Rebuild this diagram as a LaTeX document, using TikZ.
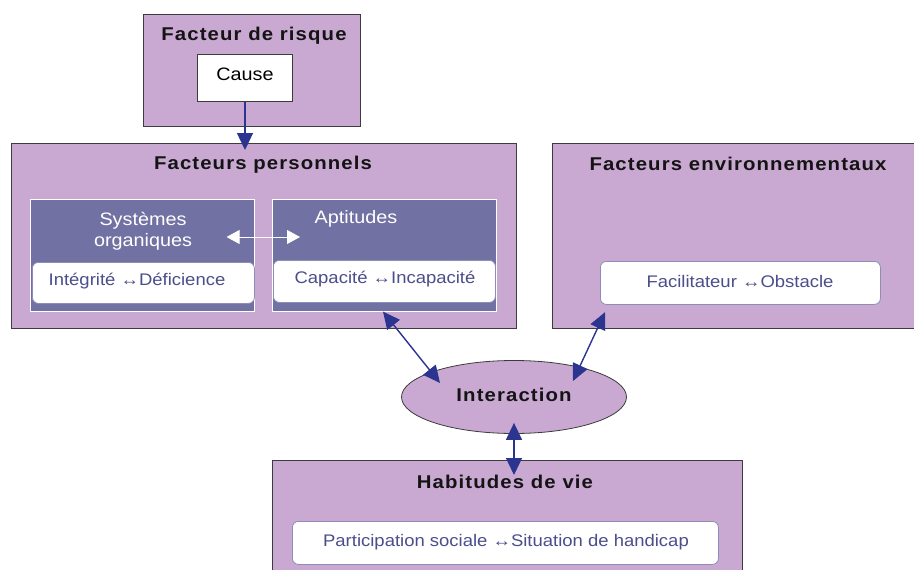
\documentclass[tikz,border=0pt]{standalone}
\usepackage{fontspec}
\setmainfont{Liberation Sans}[FakeStretch=1.1]
\newfontfamily\titlefont{Liberation Sans}[FakeStretch=1.1,LetterSpace=6]
\usetikzlibrary{arrows.meta,shapes.geometric,calc}
\definecolor{lilac}{RGB}{201,169,210}
\definecolor{slate}{RGB}{114,113,163}
\definecolor{arrowblue}{RGB}{43,53,143}
\definecolor{softtext}{RGB}{75,78,138}
\definecolor{edge}{RGB}{60,60,60}
\tikzset{
  outer/.style={draw=edge, line width=1.2pt, fill=lilac, anchor=north west, inner sep=0pt},
  innerbox/.style={draw=white, line width=0.6pt, fill=slate, anchor=north west, inner sep=0pt},
  pill/.style={draw=slate!80, line width=0.8pt, fill=white, rounded corners=6pt, anchor=north west, inner sep=0pt},
  ptext/.style={text=softtext, font=\fontsize{16.8}{18}\selectfont},
  title/.style={font=\titlefont\bfseries\fontsize{18.5}{20}\selectfont, text=black!92},
  headtext/.style={font=\fontsize{18}{21}\selectfont, text=white, align=center},
  arr/.style={draw=arrowblue, line width=1.4pt, -{Triangle[length=17pt,width=16pt]}},
  darr/.style={draw=arrowblue, line width=1.4pt, {Triangle[length=17pt,width=16pt]}-{Triangle[length=17pt,width=16pt]}},
  warr/.style={draw=white, line width=0.8pt, {Triangle[length=13pt,width=14pt]}-{Triangle[length=13pt,width=14pt]}},
}
\begin{document}
\begin{tikzpicture}[x=1pt,y=-1pt]
\useasboundingbox (0,0) rectangle (914,570);
% Facteur de risque
\node[outer, minimum width=217pt, minimum height=112pt] (risk) at (143,14) {};
\node[title] (risktitle) at (254,36) {Facteur de risque};
\node[draw=edge, line width=1pt, fill=white, anchor=north west, minimum width=95pt, minimum height=47pt, inner sep=0pt] (cause) at (197,54) {};
\node[font=\fontsize{18}{20}\selectfont] (causetext) at (245,74) {Cause};
% Facteurs personnels
\node[outer, minimum width=505pt, minimum height=185pt] (perso) at (11,143) {};
\node[title] (persotitle) at (263,165) {Facteurs personnels};
\node[innerbox, minimum width=224pt, minimum height=112pt] (sys) at (30,199) {};
\node[headtext] (systext) at (143,231) {Systèmes\\organiques};
\node[pill, minimum width=222pt, minimum height=41pt] (integ) at (32,262) {};
\node[ptext] (integtext) at (137,281) {Intégrité ↔Déficience};
\node[innerbox, minimum width=224pt, minimum height=112pt] (apt) at (272,199) {};
\node[headtext] (apttext) at (356,219) {Aptitudes};
\node[pill, minimum width=222pt, minimum height=42pt] (capa) at (273,260) {};
\node[ptext] (capatext) at (385,279) {Capacité ↔Incapacité};
\draw[warr] ([xshift=-28pt,yshift=-38pt]sys.north east) -- ([xshift=28pt,yshift=-38pt]apt.north west);
% Facteurs environnementaux
\node[outer, minimum width=372pt, minimum height=185pt] (env) at (552,143) {};
\node[title] (envtitle) at (738,164) {Facteurs environnementaux};
\node[pill, minimum width=280pt, minimum height=43pt] (facil) at (600,261) {};
\node[ptext] (faciltext) at (740,281) {Facilitateur ↔Obstacle};
% Interaction
\node[ellipse, draw=edge, line width=0.8pt, fill=lilac, minimum width=225pt, minimum height=73pt, inner sep=0pt] (inter) at (514,397) {};
\node[title] (intertext) at (514,395) {Interaction};
% Habitudes de vie
\node[outer, minimum width=470pt, minimum height=125pt] (hab) at (272,460) {};
\node[title] (habtitle) at (505,482) {Habitudes de vie};
\node[pill, minimum width=426pt, minimum height=43pt] (partic) at (292,521) {};
\node[ptext] (partictext) at (506,542) {Participation sociale ↔Situation de handicap};
% connectors
\draw[arr] (cause.south) -- ([yshift=-7pt]cause.south |- perso.north);
\draw[darr] ($(apt.south west)+(111,0)$) -- ($(inter.center)+(-74,-14)$);
\draw[darr] ($(env.south west)+(53,-17)$) -- ($(inter.center)+(59,-16)$);
\draw[darr] ($(inter.south)+(0,-11)$) -- ($(hab.north west)+(242,15)$);
\end{tikzpicture}
\end{document}
